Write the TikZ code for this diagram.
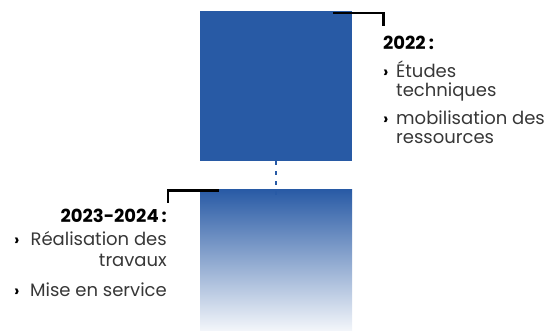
\documentclass[tikz,border=0pt]{standalone}
\usepackage{fontspec}
\setmainfont{Poppins}
\usetikzlibrary{positioning}
\definecolor{bleuA}{RGB}{40,90,165}
\definecolor{texteA}{RGB}{55,55,55}

\begin{document}
\begin{tikzpicture}[x=1pt,y=-1pt,
  bloc/.style={minimum width=152pt, minimum height=150pt, inner sep=0pt, outer sep=0pt},
  annee/.style={font=\fontsize{18}{18}\selectfont\bfseries, text=black, inner sep=0pt},
  item/.style={font=\fontsize{18}{19}\selectfont, text=texteA, inner sep=0pt},
  puce/.style={font=\fontsize{16}{18}\selectfont\bfseries, text=black, inner sep=0pt},
  repere/.style={line width=2.5pt, black},
  pointille/.style={line width=2.5pt, bleuA, dash pattern=on 4pt off 6pt}]
\useasboundingbox (0,0) rectangle (547,330);
% blocs
\node[bloc, fill=bleuA] (b2022) at (276,86) {};
\node[bloc, minimum height=141pt, top color=bleuA, bottom color=bleuA!6] (b2023) at (276,259.5) {};
\draw[pointille] (b2022.south) -- ([yshift=-7pt]b2023.north);
% reperes
\coordinate (h2022) at (333,13);
\coordinate (v2022) at (383.5,26);
\draw[repere] (h2022) -| (v2022);
\coordinate (h2023) at (218.5,190.5);
\coordinate (v2023) at (168,203);
\draw[repere] (h2023) -| (v2023);
% 2022
\node[annee, anchor=base west] (t2022) at (383,49) {2022\,:};
\node[puce, anchor=base west] (p1) at (383,77) {›};
\node[item, anchor=base west, align=left] (e1) at (396,96) {Études\\techniques};
\node[puce, anchor=base west] (p2) at (383,124) {›};
\node[item, anchor=base west, align=left] (e2) at (396,143) {mobilisation des\\ressources};
% 2023-2024
\node[annee, anchor=base east] (t2023) at (167,222) {2023-2024\,:};
\node[puce, anchor=base west] (p3) at (14,245) {›};
\node[item, anchor=base east, align=right, font=\fontsize{18}{21}\selectfont] (e3) at (167,266) {Réalisation des\\travaux};
\node[puce, anchor=base west] (p4) at (14,296) {›};
\node[item, anchor=base east] (e4) at (167,296) {Mise en service};
\end{tikzpicture}
\end{document}
